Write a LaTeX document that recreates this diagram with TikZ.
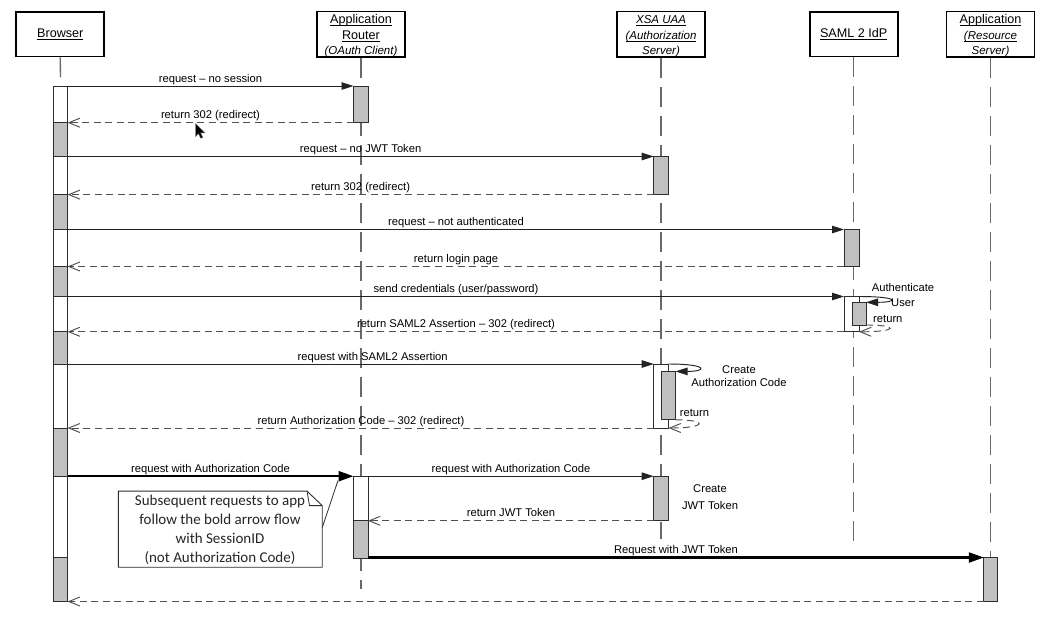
\documentclass[tikz,border=0pt]{standalone}
\usepackage{fontspec}
\setmainfont{Liberation Sans}
\newfontfamily\notefont{Carlito}
\usetikzlibrary{arrows.meta}
\definecolor{lifegray}{RGB}{105,105,105}
\definecolor{actgray}{RGB}{192,192,192}
\definecolor{barline}{RGB}{45,45,45}
\definecolor{msgline}{RGB}{35,35,35}
\definecolor{retline}{RGB}{80,80,80}
\newcommand\hul[1]{\leavevmode\setbox0=\hbox{#1}\rlap{\rule[-2pt]{\wd0}{0.7pt}}\box0}
\newcommand\msgfont{\fontsize{11.2}{13}\selectfont}
\newcommand\hdrfont{\fontsize{12.6}{15.5}\selectfont}
\newcommand\hdrit{\fontsize{11.5}{15.5}\selectfont\itshape}
\newcommand\topstrut{\rule{0pt}{12.4pt}}
\begin{document}
\begin{tikzpicture}[x=1pt,y=-1pt,
  hdr/.style={draw=black, line width=1.8pt, fill=white, minimum width=88pt, minimum height=44.3pt, inner sep=0pt, align=center, font=\hdrfont},
  life/.style={draw=lifegray, line width=1.3pt, dash pattern=on 20pt off 9pt},
  actg/.style={draw=barline, fill=actgray, line width=0.9pt},
  actw/.style={draw=barline, fill=white, line width=0.9pt},
  msg/.style={draw=msgline, line width=0.95pt, -{Triangle[length=12pt,width=7.5pt]}},
  bmsg/.style={draw=black, line width=2.2pt, -{Triangle[length=15pt,width=10pt]}},
  ret/.style={draw=retline, line width=0.95pt, dash pattern=on 7pt off 4.5pt, -{Straight Barb[length=11pt,width=9pt]}},
  lbl/.style={font=\msgfont, anchor=base, inner sep=0pt},
  lblw/.style={lbl, anchor=base west},
  notebox/.style={draw=barline, fill=white, line width=0.9pt},
  notetext/.style={font=\notefont\fontsize{15}{19}\selectfont, align=center, inner sep=0pt, text=black!85},
]
\useasboundingbox (0,0) rectangle (1057,622);
\fill[white] (0,0) rectangle (1057,622);

% ---------- headers ----------
\node[hdr] (hB) at (60.3,34.3) {\hul{Browser}};
\node[hdr] (hR) at (361,34.3) {\topstrut\hul{Application}\\\hul{Router}\\{\hdrit\hul{(OAuth Client)}}};
\node[hdr] (hX) at (661,34.3) {\topstrut{\hdrit\hul{XSA UAA}}\\{\hdrit\hul{(Authorization}}\\{\hdrit\hul{Server)}}};
\node[hdr] (hS) at (853.7,34.3) {\hul{SAML 2 IdP}};
\node[hdr] (hA) at (990.5,34.3) {\topstrut\hul{Application}\\{\hdrit\hul{(Resource}}\\{\hdrit\hul{Server)}}};

% ---------- lifelines ----------
\coordinate (lB) at (60.5,86);
\coordinate (lR) at (361,588.5);
\coordinate (lX) at (661,539);
\coordinate (lS) at (853.7,542.4);
\coordinate (lA) at (990.5,607.9);
\draw[life] (hB.south) -- (lB);
\draw[life] (hR.south) -- (lR);
\draw[life] (hX.south) -- (lX);
\draw[life] (hS.south) -- (lS);
\draw[life] (hA.south) -- (lA);

% ---------- activation bars ----------
\foreach \a/\b/\c in {86/122.7/white, 122.7/156.5/actgray, 156.5/194.6/white, 194.6/229.5/actgray,
  229.5/266.5/white, 266.5/296.5/actgray, 296.5/331.8/white, 331.8/364/actgray,
  364/428/white, 428/476.2/actgray, 476.2/557.5/white, 557.5/601.5/actgray}
  \draw[actw, fill=\c] (53.3,\a) rectangle (67.6,\b);
\draw[actg] (353.5,86) rectangle (368,122.7);
\draw[actw] (353.5,476.2) rectangle (368,520.8);
\draw[actg] (353.5,520.8) rectangle (368,558);
\draw[actg] (653.7,156.5) rectangle (668.5,194.6);
\draw[actw] (653.7,364) rectangle (668.5,428);
\draw[actg] (661,371.4) rectangle (675.5,419.8);
\draw[actg] (653.7,476.2) rectangle (668.5,520.8);
\draw[actg] (844,229.5) rectangle (859,266.5);
\draw[actw] (844,296.5) rectangle (859,331.8);
\draw[actg] (852.5,302.3) rectangle (866,325);
\draw[actg] (983.8,557.5) rectangle (997.2,601.5);

% ---------- message end points ----------
\coordinate (m1a) at (67.6,86);     \coordinate (m1b) at (353.5,86);
\coordinate (m2a) at (353.5,122.7); \coordinate (m2b) at (67.6,122.7);
\coordinate (m3a) at (67.6,156.5);  \coordinate (m3b) at (653.7,156.5);
\coordinate (m4a) at (653.7,194.6); \coordinate (m4b) at (67.6,194.6);
\coordinate (m5a) at (67.6,229.5);  \coordinate (m5b) at (844,229.5);
\coordinate (m6a) at (844,266.5);   \coordinate (m6b) at (67.6,266.5);
\coordinate (m7a) at (67.6,296.5);  \coordinate (m7b) at (844,296.5);
\coordinate (m8a) at (844,331.8);   \coordinate (m8b) at (67.6,331.8);
\coordinate (m9a) at (67.6,364);    \coordinate (m9b) at (653.7,364);
\coordinate (m10a) at (653.7,428);  \coordinate (m10b) at (67.6,428);
\coordinate (m11a) at (67.6,476.2); \coordinate (m11b) at (353.5,476.2);
\coordinate (m12a) at (368,476.2);  \coordinate (m12b) at (653.7,476.2);
\coordinate (m13a) at (653.7,520.8);\coordinate (m13b) at (368,520.8);
\coordinate (m14a) at (368,557.5);  \coordinate (m14b) at (983.8,557.5);
\coordinate (m15a) at (983.8,601.5);\coordinate (m15b) at (67.6,601.5);
% self calls
\coordinate (sSa) at (859,296.5);   \coordinate (sSb) at (866,302.3);
\coordinate (rSa) at (866,325);     \coordinate (rSb) at (859,331.8);
\coordinate (sXa) at (668.5,364);   \coordinate (sXb) at (675.5,371.4);
\coordinate (rXa) at (675.5,419.8); \coordinate (rXb) at (668.5,428);

% ---------- messages ----------
\draw[msg] (m1a) -- (m1b);
\draw[ret] (m2a) -- (m2b);
\draw[msg] (m3a) -- (m3b);
\draw[ret] (m4a) -- (m4b);
\draw[msg] (m5a) -- (m5b);
\draw[ret] (m6a) -- (m6b);
\draw[msg] (m7a) -- (m7b);
\draw[ret] (m8a) -- (m8b);
\draw[msg] (m9a) -- (m9b);
\draw[ret] (m10a) -- (m10b);
\draw[bmsg] (m11a) -- (m11b);
\draw[msg] (m12a) -- (m12b);
\draw[ret] (m13a) -- (m13b);
\draw[bmsg] (m14a) -- (m14b);
\draw[ret] (m15a) -- (m15b);
\draw[msg] (sSa) .. controls (899,296.5) and (899,302.3) .. (sSb);
\draw[ret] (rSa) .. controls (899,325) and (899,331.8) .. (rSb);
\draw[msg] (sXa) .. controls (708,364) and (708,371.4) .. (sXb);
\draw[ret] (rXa) .. controls (708,419.8) and (708,428) .. (rXb);

% ---------- labels ----------
\node[lbl] (t1) at (210.5,82) {request – no session};
\node[lbl] (t2) at (210.5,118.7) {return 302 (redirect)};
\node[lbl] (t3) at (360.6,152.5) {request – no JWT Token};
\node[lbl] (t4) at (360.6,190.6) {return 302 (redirect)};
\node[lbl] (t5) at (456,225.5) {request – not authenticated};
\node[lbl] (t6) at (456,262.5) {return login page};
\node[lbl] (t7) at (456,292.3) {send credentials (user/password)};
\node[lbl] (t8) at (456,327.8) {return SAML2 Assertion – 302 (redirect)};
\node[lbl] (t9) at (372.7,360) {request with SAML2 Assertion};
\node[lbl] (t10) at (361,424) {return Authorization Code – 302 (redirect)};
\node[lbl] (t11) at (210.5,472.5) {request with Authorization Code};
\node[lbl] (t12) at (511,472.5) {request with Authorization Code};
\node[lbl] (t13) at (511,516.8) {return JWT Token};
\node[lbl] (t14) at (676,553.7) {Request with JWT Token};
\node[lbl] (tS1) at (903,291.3) {Authenticate};
\node[lbl] (tS2) at (903,306.3) {User};
\node[lblw] (tS3) at (873,322) {return};
\node[lbl] (tX1) at (739,373.4) {Create};
\node[lbl] (tX2) at (739,386.9) {Authorization Code};
\node[lblw] (tX3) at (679.6,416.8) {return};
\node[lbl] (tJ1) at (710,492.2) {Create};
\node[lbl] (tJ2) at (710,509.7) {JWT Token};

% ---------- note ----------
\draw[notebox] (118.3,491.1) -- (307,491.1) -- (322.2,505.6) -- (322.2,567.2) -- (118.3,567.2) -- cycle;
\draw[barline, line width=0.8pt] (307,491.1) -- (309.5,505.6) -- (322.2,505.6);
\node[notetext] (note) at (220,530) {Subsequent requests to app\\follow the bold arrow flow\\with SessionID\\(not Authorization Code)};
\coordinate (nA) at (322.2,527.6);
\coordinate (nB) at (338,480.5);
\draw[barline, line width=0.8pt] (nA) -- (nB);

% ---------- mouse pointer ----------
\filldraw[fill=black, draw=black!60, line width=0.4pt] (195.5,123.5) -- ++(0,13) -- ++(3,-3) -- ++(2.3,4.8) -- ++(2,-0.9) -- ++(-2.3,-4.6) -- ++(4.3,0) -- cycle;
\end{tikzpicture}
\end{document}
